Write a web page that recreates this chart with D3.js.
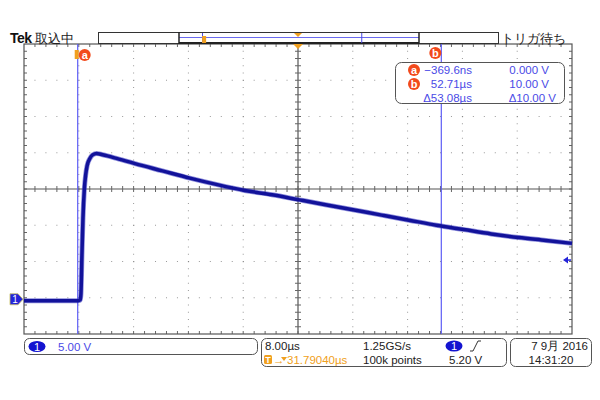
<!DOCTYPE html>
<html><head><meta charset="utf-8">
<script src="https://cdn.jsdelivr.net/npm/d3@7"></script>
<style>body{margin:0;background:#fff}svg{display:block}text{font-family:"Liberation Sans",Arial,sans-serif}</style>
</head><body>
<script>
// ---- data (time in µs, voltage in V) ----
const times = [-8.21,-3,-0.3,0,0.1,0.25,0.4,0.6,0.8,1.0,1.4,1.8,2.4,3,5,8,12,16,20,24,28,32,36,40,44,48,52,56,60,64,68,71.79];
const volts = [-0.4,-0.4,-0.4,-0.3,0.5,6,11,15,17,18.2,19.2,19.7,19.9,19.8,19.3,18.5,17.5,16.5,15.6,14.8,14.2,13.5,12.8,12.1,11.4,10.7,10.0,9.4,8.8,8.3,7.9,7.5];
const timeDomain = [-8.21, 71.79];     // 8.00 µs/div, 10 div
const voltDomain = [-5, 35];           // 5.00 V/div, 8 div
const cursorTimes = [-0.3696, 52.71];
const cursorLabels = ["a","b"];
const triggerLevel = 5.20;
const readoutRows = [["a","\u2212369.6ns","0.000 V"],["b","52.71\u00b5s","10.00 V"],["","\u039453.08\u00b5s","\u039410.00 V"]];
const statusTexts = {ch:"5.00 V", scale:"8.00\u00b5s", rate:"1.25GS/s", pos:"\u219231.79040\u00b5s", pts:"100k points", lvl:"5.20 V", date:"7 9\u6708 2016", time:"14:31:20"};

const W=600,H=400;
const L=24,R=572,T=44,B=334;
const svg=d3.select("body").append("svg").attr("width",W).attr("height",H);
const x=d3.scaleLinear().domain(timeDomain).range([L,R]);
const y=d3.scaleLinear().domain(voltDomain).range([B,T]);

const dvx=(R-L)/10, dvy=(B-T)/8;
const cx=(L+R)/2, cy=(T+B)/2;
const g=svg.append("g");
// dotted grid
for(let i=1;i<10;i++){ if(i===5) continue;
  for(let j=0;j<=40;j++){ if(j%5===0) continue; g.append("rect").attr("x",L+i*dvx-0.5).attr("y",T+j*dvy/5-0.5).attr("width",1).attr("height",1).attr("fill","#999");}
  for(let j=1;j<8;j++) g.append("rect").attr("x",L+i*dvx-0.5).attr("y",T+j*dvy-0.5).attr("width",1.2).attr("height",1.2).attr("fill","#888");
}
for(let j=1;j<8;j++){ if(j===4) continue;
  for(let i=0;i<=50;i++){ if(i%5===0) continue; g.append("rect").attr("x",L+i*dvx/5-0.5).attr("y",T+j*dvy-0.5).attr("width",1).attr("height",1).attr("fill","#999");}
}
// center lines with ticks
g.append("line").attr("x1",L).attr("x2",R).attr("y1",cy).attr("y2",cy).attr("stroke","#555").attr("stroke-width",1.2);
g.append("line").attr("x1",cx).attr("x2",cx).attr("y1",T).attr("y2",B).attr("stroke","#555").attr("stroke-width",1.2);
for(let i=1;i<50;i++){ const xx=L+i*dvx/5;
  g.append("line").attr("x1",xx).attr("x2",xx).attr("y1",cy-3).attr("y2",cy+3).attr("stroke","#666");
  g.append("line").attr("x1",xx).attr("x2",xx).attr("y1",T).attr("y2",T+3).attr("stroke","#666");
  g.append("line").attr("x1",xx).attr("x2",xx).attr("y1",B-3).attr("y2",B).attr("stroke","#666");
}
for(let j=1;j<40;j++){ const yy=T+j*dvy/5;
  g.append("line").attr("x1",cx-3).attr("x2",cx+3).attr("y1",yy).attr("y2",yy).attr("stroke","#666");
  g.append("line").attr("x1",L).attr("x2",L+3).attr("y1",yy).attr("y2",yy).attr("stroke","#666");
  g.append("line").attr("x1",R-3).attr("x2",R).attr("y1",yy).attr("y2",yy).attr("stroke","#666");
}
g.append("rect").attr("x",L).attr("y",T).attr("width",R-L).attr("height",B-T).attr("fill","none").attr("stroke","#555").attr("stroke-width",1.2);

// cursors
cursorTimes.forEach(t=>{
  svg.append("line").attr("x1",x(t)).attr("x2",x(t)).attr("y1",T).attr("y2",B).attr("stroke","#5c5cf5").attr("stroke-width",1.2);
});
// trace
const line=d3.line().x((d,i)=>x(times[i])).y(d=>y(d)).curve(d3.curveMonotoneX);
svg.append("path").attr("d",line(volts)).attr("fill","none").attr("stroke","#3434c0").attr("stroke-width",5).attr("opacity",0.55);
svg.append("path").attr("d",line(volts)).attr("fill","none").attr("stroke","#12129a").attr("stroke-width",3.5);

// cursor labels
function badge(sel,cxp,cyp,lab,r){
  sel.append("circle").attr("cx",cxp).attr("cy",cyp).attr("r",r).attr("fill","#f24a1c");
  sel.append("text").attr("x",cxp).attr("y",cyp+3.5).attr("text-anchor","middle").attr("fill","#fff").attr("font-size",11).attr("font-weight","bold").text(lab);
}
svg.append("rect").attr("x",x(cursorTimes[0])-3).attr("y",50).attr("width",4).attr("height",9).attr("fill","#f0a020");
badge(svg,x(cursorTimes[0])+7,55,cursorLabels[0],6);
badge(svg,x(cursorTimes[1])-6,53,cursorLabels[1],6);

// readout box
svg.append("rect").attr("x",395.5).attr("y",62.5).attr("width",169).attr("height",41).attr("rx",6).attr("fill","#fff").attr("stroke","#555");
readoutRows.forEach((r,i)=>{
  const yy=74+i*14;
  if(r[0]) badge(svg,414,yy-4,r[0],6);
  svg.append("text").attr("x",472).attr("y",yy).attr("text-anchor","end").attr("font-size",11.5).attr("fill","#4a4ae6").text(r[1]);
  svg.append("text").attr("x",i===2?556:549).attr("y",yy).attr("text-anchor","end").attr("font-size",11.5).attr("fill","#4a4ae6").text(r[2]);
});

// top bar
svg.append("text").attr("x",10).attr("y",43).attr("font-size",14).attr("font-weight","bold").attr("letter-spacing",-0.5).attr("fill","#111").text("Tek");
svg.append("text").attr("x",35).attr("y",43).attr("font-size",12.5).attr("font-family","Noto Sans CJK JP").attr("fill","#222").text("\u53d6\u8fbc\u4e2d");
svg.append("text").attr("x",501).attr("y",43).attr("font-size",12.5).attr("font-family","Noto Sans CJK JP").attr("fill","#222").text("\u30c8\u30ea\u30ac\u5f85\u3061");
svg.append("rect").attr("x",98.5).attr("y",32.5).attr("width",400).attr("height",11).attr("fill","#fff").attr("stroke","#333");
svg.append("line").attr("x1",179).attr("x2",419).attr("y1",37.5).attr("y2",37.5).attr("stroke","#6a6af0").attr("stroke-width",1.2);
svg.append("line").attr("x1",179).attr("x2",419).attr("y1",43).attr("y2",43).attr("stroke","#222").attr("stroke-width",2);
[179,419].forEach(v=>svg.append("line").attr("x1",v).attr("x2",v).attr("y1",32).attr("y2",44).attr("stroke","#222").attr("stroke-width",1.5));
const ov=d3.scaleLinear().domain(timeDomain).range([179,419]);
cursorTimes.forEach(t=>svg.append("line").attr("x1",ov(t)).attr("x2",ov(t)).attr("y1",33).attr("y2",43).attr("stroke","#4a4ae6").attr("stroke-width",1));
svg.append("rect").attr("x",ov(0)-1.5).attr("y",36).attr("width",4).attr("height",7).attr("fill","#f0a020");
svg.append("path").attr("d",`M${cx-4},33 L${cx+4},33 L${cx},37 Z`).attr("fill","#f0a020");
svg.append("path").attr("d",`M${cx-5},${T} L${cx+5},${T} L${cx},${T+5} Z`).attr("fill","#f0a020");

// ground marker
const gy=y(0)+1.5;
svg.append("path").attr("d",`M10,${gy-5.5} L18,${gy-5.5} L23,${gy} L18,${gy+5.5} L10,${gy+5.5} Z`).attr("fill","#2424d8").attr("stroke","#c8c060").attr("stroke-width",0.8);
svg.append("text").attr("x",15).attr("y",gy+4).attr("text-anchor","middle").attr("font-size",10).attr("fill","#fff").text("1");
// trigger level marker
const ty=y(triggerLevel);
svg.append("path").attr("d",`M563,${ty} L568,${ty-3.5} L568,${ty+3.5} Z`).attr("fill","#2424d8");
svg.append("line").attr("x1",566).attr("x2",571).attr("y1",ty).attr("y2",ty).attr("stroke","#2424d8").attr("stroke-width",1.5);

// bottom status boxes
const st=svg.append("g");
st.append("rect").attr("x",24.5).attr("y",338.5).attr("width",233).attr("height",16).attr("rx",5).attr("fill","#fff").attr("stroke","#555");
st.append("ellipse").attr("cx",37).attr("cy",346.5).attr("rx",8.5).attr("ry",5.5).attr("fill","#1414d0");
st.append("text").attr("x",37).attr("y",350.5).attr("text-anchor","middle").attr("font-size",11).attr("fill","#fff").text("1");
st.append("text").attr("x",58).attr("y",351).attr("font-size",11.5).attr("fill","#4a4ae6").text(statusTexts.ch);

st.append("rect").attr("x",261.5).attr("y",338.5).attr("width",245).attr("height",28).attr("rx",5).attr("fill","#fff").attr("stroke","#555");
st.append("text").attr("x",265).attr("y",350).attr("font-size",11.5).attr("fill","#222").text(statusTexts.scale);
st.append("text").attr("x",363).attr("y",350).attr("font-size",11.5).attr("fill","#222").text(statusTexts.rate);
st.append("ellipse").attr("cx",454).attr("cy",346).attr("rx",8.5).attr("ry",5.5).attr("fill","#1414d0");
st.append("text").attr("x",454).attr("y",350).attr("text-anchor","middle").attr("font-size",11).attr("fill","#fff").text("1");
st.append("path").attr("d","M470,351 L473,351 L478,341 L481,341").attr("fill","none").attr("stroke","#333").attr("stroke-width",1);
st.append("rect").attr("x",264).attr("y",355).attr("width",8).attr("height",9).attr("rx",1.5).attr("fill","#f0a020");
st.append("text").attr("x",268).attr("y",363).attr("text-anchor","middle").attr("font-size",9).attr("font-weight","bold").attr("fill","#fff").text("T");
st.append("path").attr("d","M281,357 L287,357 L284,361 Z").attr("fill","#f0a020");
st.append("text").attr("x",273).attr("y",364).attr("font-size",11.5).attr("fill","#f0a020").text("\u2192");
st.append("text").attr("x",287).attr("y",364).attr("font-size",11.5).attr("fill","#f0a020").text(statusTexts.pos.slice(1));
st.append("text").attr("x",363).attr("y",364).attr("font-size",11.5).attr("fill","#222").text(statusTexts.pts);
st.append("text").attr("x",449).attr("y",364).attr("font-size",11.5).attr("fill","#222").text(statusTexts.lvl);

st.append("rect").attr("x",510.5).attr("y",338.5).attr("width",81).attr("height",28).attr("rx",5).attr("fill","#fff").attr("stroke","#555");
st.append("text").attr("x",588).attr("y",350).attr("text-anchor","end").attr("font-size",11.5).attr("fill","#222").text(statusTexts.date);
st.append("text").attr("x",551).attr("y",364).attr("text-anchor","middle").attr("font-size",11.5).attr("fill","#222").text(statusTexts.time);
</script>
</body></html>
